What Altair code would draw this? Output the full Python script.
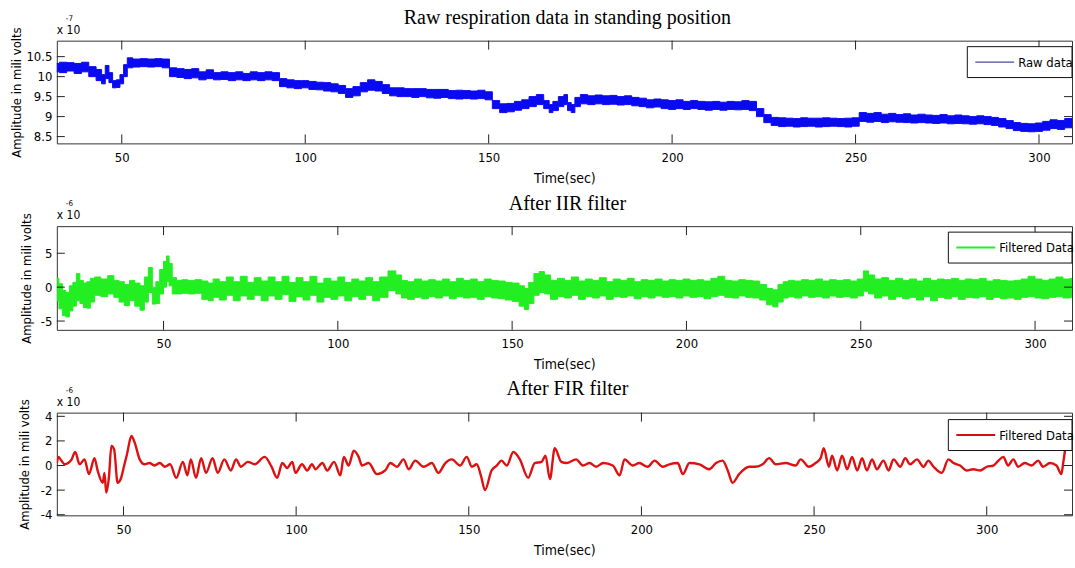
import altair as alt
import pandas as pd

# ---------------- data ----------------
# Raw data band (x 10^-7), lower / upper envelope
raw_t = [32, 34, 36, 38, 40, 42, 44, 45, 46, 47, 48, 49, 50, 51, 52, 54, 56, 58, 60, 62,
         64, 66, 68, 70, 72, 74, 76, 78, 80, 82, 84, 86, 88, 90, 92, 94, 96, 98, 100, 102,
         104, 106, 108, 110, 112, 114, 116, 118, 120, 122, 124, 126, 128, 130, 132, 134, 136, 138, 140, 142,
         144, 146, 148, 150, 152, 154, 156, 158, 160, 162, 164, 166, 167, 168, 170, 171, 172, 173, 174, 176,
         178, 180, 182, 184, 186, 188, 190, 192, 194, 196, 198, 200, 202, 204, 206, 208, 210, 212, 214, 216,
         218, 220, 222, 224, 226, 228, 230, 232, 234, 236, 238, 240, 242, 244, 246, 248, 250, 252, 254, 256,
         258, 260, 262, 264, 266, 268, 270, 272, 274, 276, 278, 280, 282, 284, 286, 288, 290, 292, 294, 296,
         298, 300, 302, 304, 306, 308, 310]
raw_lo = [10.12, 10.10, 10.14, 10.08, 10.12, 10.00, 9.90, 9.82, 9.95, 9.85, 9.72, 9.73, 9.82, 10.00, 10.22, 10.24, 10.25, 10.24, 10.25, 10.22,
          10.00, 9.98, 9.95, 9.97, 9.92, 9.95, 9.92, 9.93, 9.90, 9.92, 9.90, 9.92, 9.90, 9.92, 9.90, 9.75, 9.72, 9.70, 9.72, 9.68,
          9.67, 9.64, 9.62, 9.58, 9.48, 9.52, 9.62, 9.66, 9.64, 9.58, 9.52, 9.50, 9.50, 9.48, 9.50, 9.47, 9.46, 9.48, 9.45, 9.44,
          9.45, 9.44, 9.45, 9.42, 9.20, 9.10, 9.12, 9.16, 9.20, 9.25, 9.30, 9.20, 9.10, 9.15, 9.25, 9.30, 9.15, 9.10, 9.25, 9.32,
          9.30, 9.32, 9.30, 9.31, 9.29, 9.30, 9.27, 9.25, 9.22, 9.24, 9.20, 9.18, 9.20, 9.18, 9.20, 9.18, 9.16, 9.18, 9.16, 9.18,
          9.17, 9.18, 9.15, 9.00, 8.85, 8.78, 8.75, 8.76, 8.74, 8.75, 8.76, 8.74, 8.75, 8.76, 8.75, 8.74, 8.76, 8.88, 8.86, 8.88,
          8.85, 8.87, 8.86, 8.85, 8.84, 8.85, 8.84, 8.83, 8.84, 8.82, 8.83, 8.82, 8.81, 8.82, 8.80, 8.78, 8.74, 8.70, 8.65, 8.63,
          8.62, 8.63, 8.66, 8.70, 8.68, 8.72, 8.75]
raw_hi = [10.33, 10.36, 10.35, 10.33, 10.36, 10.25, 10.18, 10.05, 10.28, 10.10, 9.90, 9.92, 10.05, 10.30, 10.47, 10.44, 10.45, 10.44, 10.45, 10.44,
          10.22, 10.20, 10.18, 10.20, 10.12, 10.17, 10.10, 10.12, 10.10, 10.12, 10.08, 10.12, 10.10, 10.12, 10.10, 9.95, 9.92, 9.90, 9.90, 9.88,
          9.86, 9.85, 9.82, 9.78, 9.70, 9.75, 9.85, 9.92, 9.88, 9.80, 9.72, 9.72, 9.70, 9.70, 9.70, 9.68, 9.68, 9.68, 9.65, 9.66,
          9.65, 9.64, 9.66, 9.62, 9.40, 9.32, 9.33, 9.38, 9.42, 9.50, 9.55, 9.40, 9.30, 9.38, 9.50, 9.55, 9.35, 9.30, 9.48, 9.55,
          9.52, 9.54, 9.52, 9.53, 9.50, 9.52, 9.48, 9.46, 9.42, 9.44, 9.42, 9.40, 9.42, 9.38, 9.40, 9.38, 9.37, 9.38, 9.36, 9.38,
          9.37, 9.40, 9.38, 9.20, 9.05, 8.98, 8.97, 8.96, 8.95, 8.97, 8.96, 8.96, 8.97, 8.96, 8.95, 8.96, 8.97, 9.10, 9.08, 9.10,
          9.06, 9.08, 9.05, 9.07, 9.04, 9.06, 9.04, 9.03, 9.05, 9.02, 9.04, 9.02, 9.00, 9.02, 9.00, 8.98, 8.95, 8.90, 8.85, 8.83,
          8.82, 8.84, 8.88, 8.92, 8.90, 8.95, 8.97]

# After IIR filter band (x 10^-6)
iir_t = [19.5, 20.5, 21.5, 22.5, 23.5, 24.5, 25.5, 26.5, 27.5, 28.5, 29.5, 31, 33, 35, 36.5, 38, 39.5, 41, 42.5, 44,
         45, 46.3, 47.3, 48.3, 49.5, 50.5, 51.2, 52, 53, 54.5, 56, 58, 60, 62, 63.5, 65, 67, 69, 71, 73,
         75, 77, 79, 81, 83, 85, 87, 89, 91, 93, 95, 97, 99, 101, 103, 105, 107, 109, 111, 113,
         115.8, 117.5, 119, 121, 123, 125, 127, 129, 131, 133, 135, 137, 139, 141, 143, 145, 147, 149, 151, 153,
         154, 155.5, 157, 158.5, 160, 162, 164, 166, 168, 170, 172, 174, 176, 178, 180, 182, 184, 186, 188, 190,
         192, 194, 196, 198, 200, 202, 204, 206, 208, 210, 212, 214, 216, 218, 220, 222, 224, 225.5, 227, 228.5,
         230, 232, 234, 236, 238, 240, 242, 244, 246, 248, 250, 251.5, 253, 255, 257, 259, 261, 263, 265, 267,
         269, 271, 273, 275, 277, 279, 281, 283, 285, 287, 289, 291, 293, 295, 297, 299, 301, 303, 305, 307,
         309, 311]
iir_lo = [-2.0, -3.2, -4.2, -4.4, -3.5, -2.8, -2.0, -2.4, -3.0, -3.1, -2.2, -1.2, -1.4, -1.0, -1.5, -2.2, -2.7, -2.0, -2.8, -3.4,
          -2.2, -0.8, -2.5, -2.4, -1.0, 0.0, 0.8, 0.2, -1.0, -1.0, -0.9, -1.0, -0.9, -1.8, -2.0, -1.5, -1.9, -1.2, -2.0, -1.3,
          -1.8, -1.2, -2.0, -1.3, -1.8, -1.1, -2.1, -1.4, -1.9, -1.2, -2.2, -1.5, -1.8, -1.3, -2.0, -1.4, -1.8, -1.2, -2.0, -1.5,
          -0.5, -1.0, -1.6, -1.8, -1.5, -1.7, -1.4, -1.6, -1.3, -1.7, -1.4, -1.6, -1.5, -1.8, -1.4, -1.6, -1.7, -1.9, -2.1, -2.8,
          -3.3, -2.4, -1.2, -0.8, -1.0, -1.8, -1.4, -1.6, -1.2, -1.8, -1.4, -1.6, -1.3, -1.8, -1.4, -1.5, -1.3, -1.7, -1.4, -1.6,
          -1.3, -1.5, -1.4, -1.6, -1.3, -1.5, -1.4, -1.7, -1.4, -1.2, -1.5, -1.6, -1.3, -1.5, -1.6, -1.9, -2.6, -2.9, -2.2, -1.6,
          -1.4, -1.6, -1.3, -1.5, -1.4, -1.6, -1.3, -1.5, -1.4, -1.6, -1.3, -0.6, -1.0, -1.6, -1.3, -1.8, -1.4, -1.7, -1.5, -1.9,
          -1.4, -2.0, -1.5, -1.7, -1.4, -1.8, -1.5, -1.6, -1.4, -1.8, -1.5, -1.7, -1.6, -1.8, -1.5, -1.4, -1.6, -1.7, -1.5, -1.4,
          -1.6, -1.5]
iir_hi = [1.3, 0.5, -0.5, -0.8, 0.2, 0.7, 2.0, 1.0, 0.6, 0.8, 1.3, 1.5, 1.2, 1.7, 1.0, 0.8, 0.4, 1.0, 0.6, 0.2,
          1.5, 2.9, 0.0, 0.8, 2.6, 3.8, 4.6, 3.5, 1.4, 1.0, 1.1, 1.0, 1.1, 0.9, 0.6, 1.2, 0.8, 1.5, 0.8, 1.6,
          0.7, 1.4, 0.9, 1.5, 0.8, 1.6, 0.7, 1.4, 0.8, 1.6, 0.6, 1.3, 0.9, 1.5, 0.7, 1.2, 0.9, 1.4, 0.8, 1.5,
          2.4, 1.8, 1.0, 0.8, 1.2, 0.9, 1.1, 0.9, 1.2, 0.8, 1.3, 1.0, 1.2, 0.8, 1.2, 1.0, 0.9, 0.7, 0.6, 0.2,
          -0.2, 0.7, 2.0, 2.3, 1.8, 1.0, 1.3, 1.0, 1.5, 0.9, 1.2, 1.0, 1.4, 0.8, 1.2, 1.0, 1.3, 0.8, 1.1, 1.0,
          1.2, 0.9, 1.1, 1.0, 1.2, 1.0, 1.1, 0.9, 1.3, 1.6, 1.0, 0.9, 1.1, 1.0, 0.9, 0.4, -0.2, -0.4, 0.4, 0.8,
          1.0, 0.9, 1.1, 1.0, 1.2, 0.9, 1.1, 1.0, 1.1, 0.9, 1.2, 2.4, 1.8, 1.2, 1.4, 1.0, 1.3, 1.0, 1.2, 0.9,
          1.3, 1.0, 1.2, 1.1, 1.3, 1.0, 1.2, 1.1, 1.3, 0.9, 1.1, 1.0, 0.9, 1.0, 1.2, 1.6, 1.2, 1.0, 1.2, 1.5,
          1.2, 1.3]

# After FIR filter line (x 10^-6)
fir_t = [30.7, 31.2, 32, 33, 34, 35, 36, 37.3, 38.7, 40, 41.6, 42.5, 44, 44.5, 45, 45.8, 46.5, 47.3, 48.3, 49.2,
         50.2, 51, 52.3, 53.2, 54.7, 56.1, 57.5, 59, 60.5, 62, 63.5, 65.3, 67.2, 68.5, 69.5, 71, 72.5, 73.9, 75.8, 77.3,
         79.2, 81.1, 82.6, 84, 86, 88, 90.9, 92.8, 94.5, 96, 97.4, 98.9, 99.8, 101.7, 103.2, 104.6, 105.6, 107.6, 109, 111,
         112.8, 113.8, 115.2, 116.7, 118.1, 119.1, 121, 123.4, 125.8, 127.3, 129.2, 131.1, 132.6, 134.5, 136.9, 139.3, 141.2, 143.2, 145.1, 147.5,
         149.4, 150.9, 152.3, 153.5, 154.7, 156.6, 158.1, 159.5, 161, 162.9, 164.8, 167.2, 169.1, 171.1, 172.2, 173.5, 174.9, 176.8, 178.3, 181.1,
         183.1, 185, 186.9, 188.9, 191.7, 193.7, 195.1, 197.5, 199.4, 201.8, 203.8, 206.2, 208.1, 210.5, 212, 213.9, 216.8, 219.6, 221.6, 223.5,
         225, 226.4, 228.3, 231.2, 233.1, 235.1, 237, 238.9, 241.8, 244.7, 246.1, 248.5, 250.4, 251.9, 252.8, 254.3, 255.2, 256.7, 258.1, 259.6,
         261, 262.5, 263.9, 265.3, 266.8, 268.2, 270.1, 271.6, 273, 275, 276.4, 277.8, 279.8, 281.7, 283.1, 284.6, 287, 288.9, 290.4, 292.3,
         294.2, 296.1, 298.1, 300, 301.9, 303.4, 304.8, 306.2, 307.7, 309.1, 311, 313, 314.9, 316.3, 318.3, 320.2, 321.6, 322.3, 323.1, 324.5]
fir_v = [0.2, 0.7, 0.4, 0.1, 0.2, 0.5, 1.1, 0.1, 0.5, -0.7, 0.6, -0.4, -1.4, -0.6, -2.2, -0.9, 1.6, 1.3, -1.4, -1.1,
         0.0, 0.9, 2.4, 1.9, 0.5, 0.1, 0.2, 0.0, 0.2, -0.1, 0.1, -1.0, 0.3, -0.8, 0.5, -1.0, 0.6, -0.6, 0.6, -0.6,
         0.5, -0.4, 0.5, -0.1, 0.3, 0.1, 0.7, -0.05, -1.0, 0.2, -0.2, 0.3, -0.6, 0.1, -0.4, 0.1, -0.3, 0.2, -0.4, 0.3,
         -0.8, 0.7, 0.0, 1.2, 0.7, 0.0, 0.2, -0.7, -0.4, 0.2, -0.1, 0.5, -0.3, 0.4, -0.1, 0.2, -0.6, 0.2, 0.5, 0.0,
         0.7, -0.1, 0.1, -0.8, -2.0, -0.4, 0.0, 0.4, 0.0, 1.1, 0.5, -1.0, 0.2, 0.3, 0.8, -1.1, 1.4, 0.3, 0.2, 0.5,
         0.0, 0.2, -0.1, 0.2, 0.0, -0.8, 0.5, 0.0, 0.2, -0.1, 0.4, -0.1, 0.1, 0.2, -0.7, 0.2, 0.1, -0.3, 0.2, 0.4,
         -0.4, -1.4, -0.7, -0.1, -0.1, 0.1, 0.6, 0.1, 0.2, 0.0, 0.5, -0.1, 0.2, 0.6, 1.4, -0.1, 0.8, -0.4, 0.8, -0.3,
         0.7, -0.4, 0.6, -0.4, 0.5, -0.3, 0.4, -0.4, 0.5, -0.1, 0.6, 0.1, 0.5, -0.1, 0.4, -0.1, -0.6, 0.5, 0.2, 0.0,
         -0.4, -0.3, -0.4, -0.1, 0.0, 0.4, 0.7, 0.0, 0.5, -0.1, 0.2, 0.0, 0.4, -0.1, 0.2, 0.0, -0.7, 0.5, 1.8, 2.0]

x_ticks = [50, 100, 150, 200, 250, 300]
raw_y_ticks = [8.5, 9, 9.5, 10, 10.5]
iir_y_ticks = [-5, 0, 5]
fir_y_ticks = [-4, -2, 0, 2, 4]

titles = ["Raw respiration data in standing position", "After IIR filter", "After FIR filter"]

# ---------------- styling ----------------
NARROW = "Liberation Sans Narrow, DejaVu Sans Condensed, Roboto Condensed, Arial Narrow, Liberation Sans, sans-serif"
SERIF = "Liberation Serif, Times New Roman, serif"
W = 1018
TICK = "#222222"


def xaxis():
    return alt.Axis(values=x_ticks, title="Time(sec)", ticks=False, domain=False, grid=False,
                    labelPadding=8, titlePadding=7, titleFontSize=14, labelFlush=False)


def yaxis(vals, tp):
    return alt.Axis(values=vals, title="Amplitude in mili volts", ticks=False, domain=False,
                    grid=False, labelPadding=5, titlePadding=tp, labelExpr="'' + datum.value",
                    labelFlush=False)


def frame_ticks(yt, h, tp):
    xdf = pd.DataFrame({"xt": x_ticks})
    ydf = pd.DataFrame({"yt": yt})
    top = alt.Chart(xdf).mark_rule(color=TICK, strokeWidth=1).encode(
        x=alt.X("xt:Q", axis=xaxis()), y=alt.value(0), y2=alt.value(9))
    bot = alt.Chart(xdf).mark_rule(color=TICK, strokeWidth=1).encode(
        x=alt.X("xt:Q", axis=xaxis()), y=alt.value(h - 9), y2=alt.value(h))
    left = alt.Chart(ydf).mark_rule(color=TICK, strokeWidth=1).encode(
        y=alt.Y("yt:Q", axis=yaxis(yt, tp)), x=alt.value(0), x2=alt.value(8))
    right = alt.Chart(ydf).mark_rule(color=TICK, strokeWidth=1).encode(
        y=alt.Y("yt:Q", axis=yaxis(yt, tp)), x=alt.value(W - 8), x2=alt.value(W))
    return [top, bot, left, right]


def legend(label, color, lw, bx, by):
    one = pd.DataFrame({"k": [0]})
    box = alt.Chart(one).mark_rect(fill="white", stroke="#111111", strokeWidth=1).encode(
        x=alt.value(bx), x2=alt.value(W), y=alt.value(by), y2=alt.value(by + 31))
    line = alt.Chart(one).mark_rule(color=color, strokeWidth=lw).encode(
        x=alt.value(bx + 8), x2=alt.value(bx + 47), y=alt.value(by + 15.5))
    txt = alt.Chart(one).mark_text(align="left", baseline="middle", font=NARROW, fontSize=13,
                                   color="black").encode(
        x=alt.value(bx + 51), y=alt.value(by + 16), text=alt.value(label))
    return [box, line, txt]


def heading(text, ty, power):
    one = pd.DataFrame({"k": [0]})
    ttl = alt.Chart(one).mark_text(align="center", baseline="middle", font=SERIF, fontSize=20,
                                   color="black").encode(
        x=alt.value(W / 2 + 3), y=alt.value(ty), text=alt.value(text))
    base = alt.Chart(one).mark_text(align="left", baseline="middle", font=NARROW, fontSize=12,
                                    color="black").encode(
        x=alt.value(0), y=alt.value(-11), text=alt.value("x 10"))
    sup = alt.Chart(one).mark_text(align="left", baseline="middle", font=NARROW, fontSize=8,
                                   color="black").encode(
        x=alt.value(9), y=alt.value(-22), text=alt.value(power))
    return [ttl, base, sup]


# ---------------- panel 1: raw ----------------
raw_df = pd.DataFrame({"t": raw_t, "lo": raw_lo, "hi": raw_hi})
H1 = 103
raw_band = alt.Chart(raw_df).mark_area(color="#0a0af0", stroke="#0a0af0", strokeWidth=1,
                                       clip=True, interpolate="step").encode(
    x=alt.X("t:Q", scale=alt.Scale(domain=[32.3, 309], nice=False, zero=False), axis=xaxis()),
    y=alt.Y("lo:Q", scale=alt.Scale(domain=[8.33, 10.9], nice=False, zero=False),
            axis=yaxis(raw_y_ticks, 2)),
    y2="hi:Q")
p1 = alt.layer(raw_band, *frame_ticks(raw_y_ticks, H1, 2),
               *legend("Raw data", "#1a1a8c", 1, 913, 6),
               *heading(titles[0], -23, "-7")).properties(width=W, height=H1)

# ---------------- panel 2: IIR ----------------
iir_df = pd.DataFrame({"t": iir_t, "lo": iir_lo, "hi": iir_hi})
H2 = 104
iir_band = alt.Chart(iir_df).mark_area(color="#22ee22", stroke="#22ee22", strokeWidth=1,
                                       clip=True, interpolate="step").encode(
    x=alt.X("t:Q", scale=alt.Scale(domain=[19.4, 310.6], nice=False, zero=False), axis=xaxis()),
    y=alt.Y("lo:Q", scale=alt.Scale(domain=[-6.3, 9.0], nice=False, zero=False),
            axis=yaxis(iir_y_ticks, 7)),
    y2="hi:Q")
p2 = alt.layer(iir_band, *frame_ticks(iir_y_ticks, H2, 7),
               *legend("Filtered Data", "#22ee22", 2, 894, 6),
               *heading(titles[1], -22, "-6")).properties(width=W, height=H2)

# ---------------- panel 3: FIR ----------------
fir_df = pd.DataFrame({"t": fir_t, "v": fir_v})
H3 = 103
fir_line = alt.Chart(fir_df).mark_line(color="#dd1111", strokeWidth=2.4, clip=True,
                                       interpolate="monotone").encode(
    x=alt.X("t:Q", scale=alt.Scale(domain=[30.7, 324.7], nice=False, zero=False), axis=xaxis()),
    y=alt.Y("v:Q", scale=alt.Scale(domain=[-4.05, 4.3], nice=False, zero=False),
            axis=yaxis(fir_y_ticks, 9)))
p3 = alt.layer(fir_line, *frame_ticks(fir_y_ticks, H3, 9),
               *legend("Filtered Data", "#cc1111", 2, 894, 7),
               *heading(titles[2], -24, "-6")).properties(width=W, height=H3)

chart = alt.vconcat(p1, p2, p3, spacing=83, bounds="flush").configure_view(
    stroke="#333333", strokeWidth=1
).configure_axis(
    labelFont=NARROW, titleFont=NARROW, labelFontSize=13, titleFontSize=13,
    titleFontWeight="normal", labelColor="black", titleColor="black"
).properties(
    padding={"left": 10, "top": 6, "right": 0, "bottom": 0},
    background="white"
)

chart.save("out.html", embed_options={"renderer": "svg", "actions": False})
